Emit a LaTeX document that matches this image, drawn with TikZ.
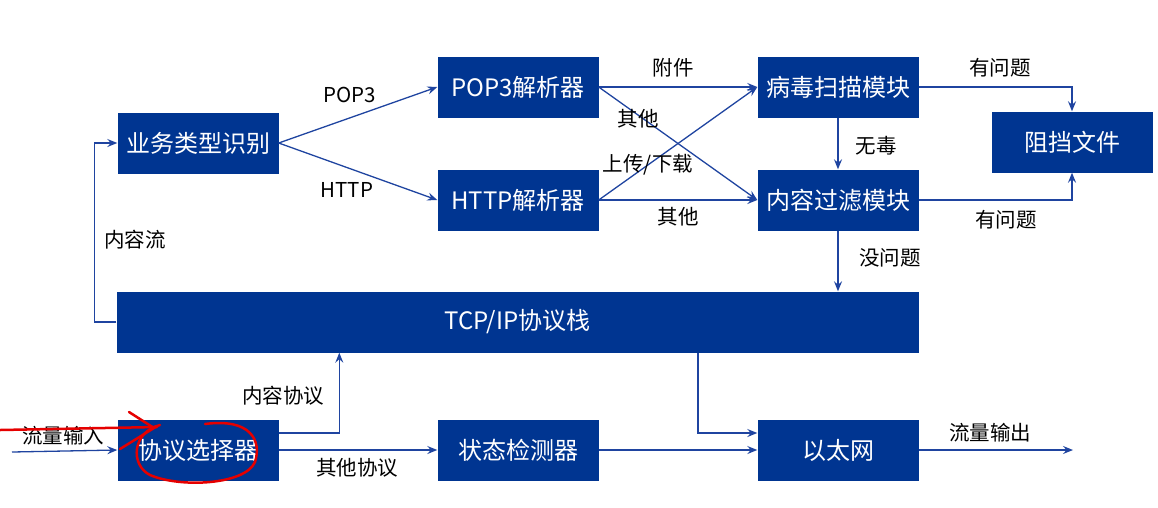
\documentclass[tikz,border=0pt]{standalone}
\usepackage{fontspec}
\setmainfont{Noto Sans CJK SC}
\usetikzlibrary{arrows.meta}
\definecolor{boxblue}{HTML}{003591}
\definecolor{lineblue}{HTML}{1F44A0}
\begin{document}
\begin{tikzpicture}[x=1pt,y=-1pt,
  box/.style={fill=boxblue, text=white, font=\fontsize{24}{27}\selectfont, minimum width=161pt, minimum height=61pt, inner sep=0pt},
  lbl/.style={text=black, font=\fontsize{20.5}{23}\selectfont, inner sep=0pt},
  arr/.style={draw=lineblue, line width=1.3pt, -{Stealth[length=10pt,width=8pt,inset=3.5pt]}},
  redmark/.style={draw=red!90!black, line width=2.5pt, line cap=round}]
\useasboundingbox (0,0) rectangle (1158,507);
% boxes
\node[box] (biz) at (198,143) {业务类型识别};
\node[box] (pop) at (518,87) {POP3解析器};
\node[box] (http) at (518,200) {HTTP解析器};
\node[box] (vir) at (838,87) {病毒扫描模块};
\node[box] (flt) at (838,200) {内容过滤模块};
\node[box] (blk) at (1072,142) {阻挡文件};
\node[box, minimum width=802pt] (tcp) at (517.5,322) {TCP/IP协议栈};
\node[box] (sel) at (198,450) {协议选择器};
\node[box] (det) at (518,450) {状态检测器};
\node[box] (eth) at (838,450) {以太网};
% free ends
\coordinate (in) at (12,452);
\coordinate (out) at (1073,450);
% connectors
\draw[arr] (biz.east) -- (pop.west);
\draw[arr] (biz.east) -- (http.west);
\draw[arr] (pop.east) -- (vir.west);
\draw[arr] (pop.east) -- (flt.west);
\draw[arr] (http.east) -- (vir.west);
\draw[arr] (http.east) -- (flt.west);
\draw[arr] (vir.south) -- (flt.north);
\draw[arr] (flt.south) -- (flt.south |- tcp.north);
\draw[arr] (vir.east) -| (blk.north);
\draw[arr] (flt.east) -| (blk.south);
\draw[arr] (tcp.west) -- ++(-22,0) |- (biz.west);
\draw[arr] (in) -- (sel.west);
\draw[arr] ([yshift=17pt]sel.east) -| ([xshift=223pt]tcp.south west);
\draw[arr] (sel.east) -- (det.west);
\draw[arr] (det.east) -- (eth.west);
\draw[arr] ([xshift=180.5pt]tcp.south) |- ([yshift=17pt]eth.west);
\draw[arr] (eth.east) -- (out);
% labels
\node[lbl] (lpop) at (350,95) {POP3};
\node[lbl] (lhttp) at (347,190) {HTTP};
\node[lbl] (lfj) at (673,68) {附件};
\node[lbl] (lqt1) at (638,119) {其他};
\node[lbl] (lsc) at (648,165) {上传/下载};
\node[lbl] (lqt2) at (678,217) {其他};
\node[lbl] (lwd) at (876,146) {无毒};
\node[lbl] (lmw) at (890,258) {没问题};
\node[lbl] (lyw1) at (1000,68) {有问题};
\node[lbl] (lyw2) at (1006,220) {有问题};
\node[lbl] (lnrl) at (135,240) {内容流};
\node[lbl] (lnrxy) at (283,396) {内容协议};
\node[lbl] (lqtxy) at (357,468) {其他协议};
\node[lbl] (lin) at (63,436) {流量输入};
\node[lbl] (lout) at (990,433) {流量输出};
% red hand annotation
\draw[redmark] (0,430) -- (157,427);
\draw[redmark] (129,412) -- (154,428) -- (120,449);
\draw[redmark] (205,424) .. controls (250,418) and (262,440) .. (255,462)
  .. controls (245,485) and (180,488) .. (150,475)
  .. controls (130,465) and (132,432) .. (160,425);
\end{tikzpicture}
\end{document}
